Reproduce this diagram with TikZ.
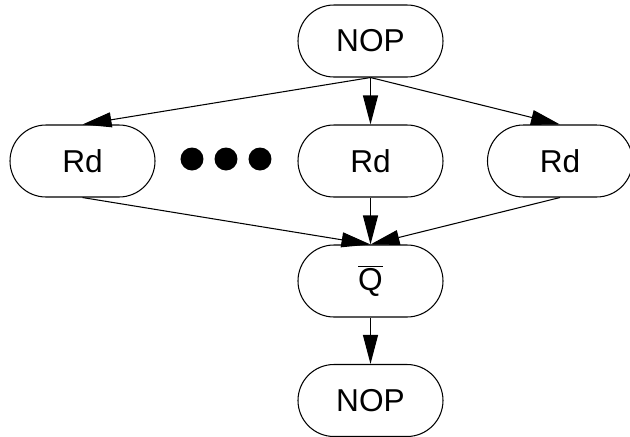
\documentclass[tikz,border=0pt]{standalone}
\usepackage{fontspec}
\setmainfont{Liberation Sans}
\usetikzlibrary{arrows.meta}
\tikzset{
  stagebox/.style={draw, line width=0.6pt, rounded corners=0.72cm, minimum width=2.9cm, minimum height=1.44cm, inner sep=0pt, font=\fontsize{18}{20}\selectfont},
  flow/.style={line width=0.6pt, -{Triangle[length=0.58cm, width=0.3cm]}}
}
\begin{document}
\begin{tikzpicture}
\useasboundingbox (0,0) rectangle (12.6,-8.74);
\node[stagebox] (top) at (7.41,-0.82) {NOP};
\node[stagebox] (rdl) at (1.65,-3.22) {Rd};
\node[stagebox] (rdc) at (7.41,-3.22) {Rd};
\node[stagebox] (rdr) at (11.2,-3.22) {Rd};
\node[stagebox] (q) at (7.41,-5.62) {$\overline{\mbox{Q}}$};
\node[stagebox] (bot) at (7.41,-8.01) {NOP};
\foreach \x in {3.84,4.52,5.2}
  \fill (\x,-3.18) circle (0.23);
\draw[flow] (top.south) -- (rdl.north);
\draw[flow] (top.south) -- (rdc.north);
\draw[flow] (top.south) -- (rdr.north);
\draw[flow] (rdl.south) -- (q.north);
\draw[flow] (rdc.south) -- (q.north);
\draw[flow] (rdr.south) -- (q.north);
\draw[flow] (q) -- (bot);
\end{tikzpicture}
\end{document}
